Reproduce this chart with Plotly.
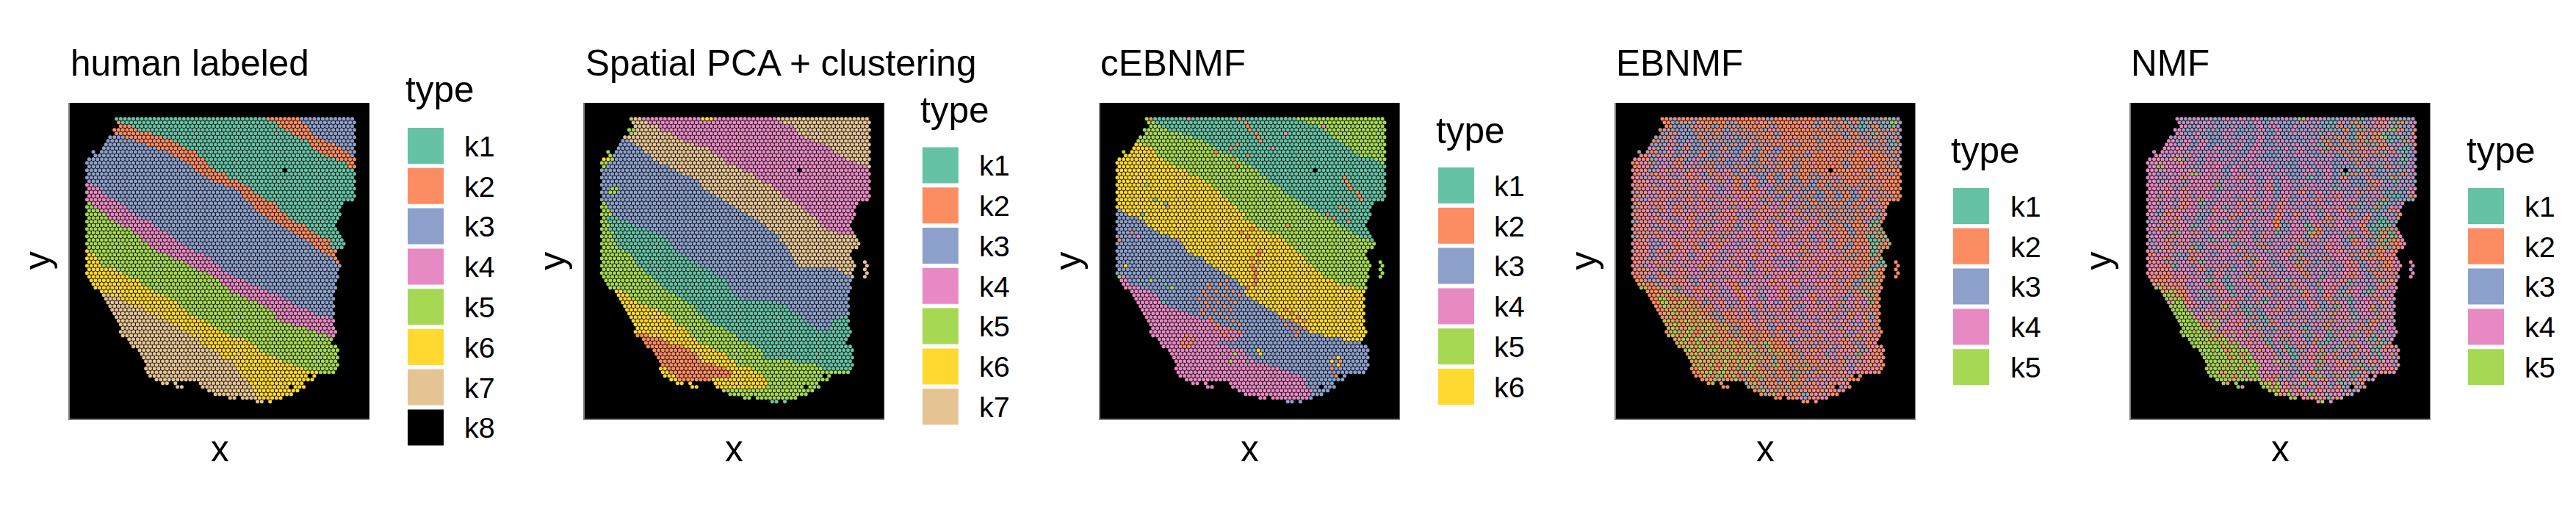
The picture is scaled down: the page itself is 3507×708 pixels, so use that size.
import plotly.graph_objects as go

W, H = 3507, 708
SET2 = {"a": "#66C2A5", "b": "#FC8D62", "c": "#8DA0CB", "d": "#E78AC3", "e": "#A6D854",
        "f": "#FFD92F", "g": "#E5C494", "h": "#000000"}
KEYS = "abcdefgh"
TITLES = ["human labeled", "Spatial PCA + clustering", "cEBNMF", "EBNMF", "NMF"]
LEGEND_COUNTS = [8, 7, 6, 5, 5]

ROW_STARTS = [0, 1, 2, -1, 0, -3, -4, -5, -6, -7, -10, -13, -14, -13, -14, -13, -14, -13, -14, -13,
              -14, -13, -14, -13, -14, -13, -14, -13, -14, -13, -14, -13, -14, -13, -14, -13, -14, -13, -14, -13,
              -14, -13, -14, -13, -12, -11, -10, -7, -6, -5, -4, -3, -2, -1, 0, 1, 2, 3, 2, 3,
              6, 7, 8, 11, 12, 13, 14, 15, 14, 15, 16, 19, 40, 41, 44, 47, 60, 67]
ROW_ENDS = [112, 113, 112, 113, 112, 113, 112, 113, 112, 113, 112, 113, 112, 113, 112, 113, 112, 113, 112, 113,
            112, 113, 112, 107, 106, 105, 106, 105, 104, 103, 104, 105, 106, 107, 108, 107, 104, 103, 104, 105,
            106, 105, 104, 105, 104, 103, 104, 103, 102, 103, 102, 103, 102, 103, 102, 103, 102, 103, 104, 103,
            102, 101, 104, 105, 104, 105, 104, 105, 104, 103, 94, 93, 88, 89, 86, 83, 78, 67]
EXTRA_SPOTS = [(9, -11), (39, 111), (40, 112), (41, 111), (42, 112), (43, 111), (72, 22), (72, 24), (72, 28),
               (73, 29), (73, 31), (76, 54), (76, 56), (77, 69), (77, 73)]
BLACK_SPOTS = [(14, 80), (70, 92), (73, 83)]
P1_BLACK_SPOTS = [(39, 111), (40, 112), (41, 111), (42, 112), (43, 111)]

P1_ROWS = ["a70 b87 c", "b1 a75 b88 c", "b7 a77 b90 c", "b10 a80 b91 c", "b17 a82 b93 c", "c3 b21 a85 b95 c",
 "c8 b26 a90 b99 c", "c13 b29 a92 b103 c", "c18 b32 a93 b107 c", "c23 b37 a96 b110 c", "c26 b38 a98 b111 c",
 "c29 b41 a104 b", "c32 b42 a108 b", "c35 b43 a110 b", "c37 b47 a", "c40 b52 a", "c43 b53 a", "c46 b57 a",
 "d-12 c50 b61 a", "d-9 c55 b64 a", "d-7 c58 b65 a", "d-5 c60 b68 a", "d-2 c61 b71 a", "e-13 d1 c63 b75 a",
 "e-11 d5 c64 b77 a", "e-9 d6 c66 b78 a", "e-6 d8 c69 b80 a", "e-4 d12 c72 b82 a", "e-1 d16 c74 b85 a",
 "e2 d18 c77 b89 a", "e6 d20 c80 b91 a", "e8 d23 c83 b94 a", "e10 d26 c86 b97 a", "e11 d28 c89 b101 a",
 "e14 d31 c92 b101 a", "e16 d34 c94 b101 a", "f-13 e19 d37 c97 b105 a", "f-10 e23 d41 c99 b", "f-9 e27 d44 c102 b",
 "f-8 e31 d46 c103 b", "f-7 e34 d49 c", "f-1 e38 d50 c", "f2 e42 d53 c", "f6 e45 d55 c", "f10 e48 d60 c",
 "f12 e50 d64 c", "f14 e52 d68 c", "f17 e54 d71 c", "g-3 f22 e58 d76 c", "g1 f26 e62 d80 c", "g5 f28 e66 d83 c",
 "g8 f30 e69 d86 c", "g12 f33 e72 d90 c", "g16 f34 e75 d94 c", "g19 f38 e75 d101 c", "g23 f41 e78 d", "g26 f44 e83 d",
 "g30 f47 e89 d", "g33 f50 e95 d", "g36 f54 e99 d", "g38 f60 e103 d", "g39 f64 e", "g42 f67 e", "g46 f68 e",
 "g48 f71 e", "g50 f75 e", "g54 f78 e", "g56 f83 e", "g57 f89 e", "g58 f96 e", "g58 f", "g61 f", "g62 f", "g63 f",
 "g64 f", "g66 f", "g67 f", "g69 f"]

P2_ROWS = ["e0 g5 d32 f38 d69 g", "g8 d72 g", "g12 d76 g", "e1 g14 d78 g", "e0 g18 d79 g", "g21 d82 g", "c-2 g25 d87 g",
 "c1 g29 d91 g", "c4 g36 d94 g", "e-11 c6 g37 d96 g", "e-9 c8 g41 d98 g", "f-11 e-9 c10 g43 d102 g", "e-12 c12 g45 d107 g",
 "e-13 c17 g49 d111 g", "c21 g53 d", "c24 g57 d", "c29 g59 d", "c31 g62 d", "c33 g66 d", "c-11 e-7 c33 g68 d",
 "c-12 e-8 c36 g70 d", "c40 g71 d", "c43 g74 d", "e-13 c45 g78 d", "e-12 c48 g80 d", "e-11 c52 g82 d", "e-10 c54 g85 d",
 "e-12 a-6 c57 g87 d", "e-12 a-1 c60 g89 d", "e-11 a2 c63 g90 d", "e-11 a6 c65 g93 d", "e-9 a11 c68 g97 d", "e-9 a14 c70 g",
 "e-8 a17 c70 g", "e-7 a18 c72 g", "e-6 a20 c73 g", "e-3 a21 c74 g", "e-1 a24 c75 g", "e1 a26 c76 g", "e2 a29 c77 g",
 "e3 a33 c78 g", "e5 a37 c98 g", "e7 a38 c101 g", "e9 a41 c103 g", "e11 a44 c", "e13 a45 c", "e15 a47 c", "f-4 e18 a48 c",
 "f-2 e21 a49 c", "f0 e24 a52 c", "f3 e27 a68 c", "f7 e29 a74 c", "f12 e31 a75 c", "f15 e32 a78 c", "f18 e34 a80 c98 a",
 "f19 e36 a82 c96 a", "f20 e39 a85 c94 a", "f25 e43 a87 c93 a", "f27 e47 a90 c91 a", "b8 f28 e49 a", "b15 f30 e50 a",
 "b18 f32 e55 a", "b24 f36 e59 a", "b28 f39 e61 a", "b30 f44 e62 a", "b31 f46 e62 a", "b33 f48 e77 a", "b40 f50 e87 a",
 "f17 b44 f56 e90 a", "f18 b47 f60 e103 a", "f20 b47 f63 e", "f22 b38 f64 e", "f64 e", "f64 e", "e", "e", "e", "a"]

P3_ROWS = ["e1 b3 a70 e", "e4 a76 e", "e7 a80 e", "e10 a83 e", "e17 a86 e", "e22 a88 e", "e26 a91 e", "f-2 e29 a93 e",
 "f2 e33 a96 e", "e-11 f3 e36 a97 e", "f5 e40 a101 e", "f7 e43 a108 e", "f11 e46 a111 e", "f14 e50 a", "f18 e53 a", "f20 e54 a",
 "f24 e57 a", "f27 e58 a", "f30 e61 a", "f32 e64 a", "f34 e65 a", "f35 e67 a", "f38 e71 a", "f40 e74 a", "f42 e76 a",
 "c-12 f44 e79 a", "c-9 f46 e82 a", "c-5 f46 e86 a", "c-2 f48 e88 a", "c0 f51 e91 a", "c3 f54 e94 a", "c6 f58 e98 a",
 "c11 f62 e101 a", "c16 f65 e106 a", "c17 f67 e", "c18 f69 e", "c19 f71 e", "c21 f74 e", "c26 f75 e", "c28 f76 e", "c30 f78 e",
 "c33 f79 e", "c37 f82 e", "d-11 c39 f84 e", "d-10 c42 f88 e", "d-8 c44 f91 e", "d-3 c46 f98 e", "d2 c46 f", "d5 c47 f", "d5 c50 f",
 "d6 c53 f", "d9 c55 f", "d14 c58 f", "d19 c62 f", "d24 c64 f", "d29 c69 f", "d32 c71 f", "d38 c74 f", "d42 c77 f", "d45 c83 f",
 "d43 c93 f", "d33 c", "d38 c", "d45 c", "d47 c", "d49 c", "d51 c", "d58 c", "d62 c", "d68 c", "d72 c", "d75 c", "d75 c", "d76 c",
 "d78 c", "d78 c", "d76 c", "c"]

P3_SPECKS = {
 "b": "0,44 1,47 2,48 3,49 4,51 5,52 6,54 8,39 9,33 10,48 11,41 13,43 7,43 16,93 17,94 18,96 19,97 20,99 21,101 22,102 24,92 25,94 "
      "26,85 27,88 28,95 29,66 30,50 31,45 32,47 36,53 37,52 38,50 39,52 40,49 41,50 42,52 43,50 44,51 45,50 46,48 "
      "44,37 45,29 45,35 46,30 46,38 47,27 47,33 47,41 48,28 48,36 48,44 49,25 49,31 49,39 50,28 50,34 50,42 51,29 51,37 "
      "52,26 52,32 52,40 52,66 53,27 53,35 53,69 54,30 54,38 54,64 54,72 55,31 55,41 55,69 55,75 56,34 56,44 56,66 56,72 "
      "57,33 57,39 57,69 57,75 58,36 58,44 58,72 59,19 59,37 59,71 60,18 60,22 60,40 61,17 61,21 62,18 62,20 31,-8 33,-13 "
      "48,-8 49,-7 66,91 68,88 70,89",
 "d": "0,20 2,84 4,66 8,60 24,10 32,-4 33,14 47,-11 50,4 66,88",
 "f": "18,-10 20,-8 40,-10 63,53 64,54 65,91 66,88 67,90",
 "a": "22,3 23,9 26,-2 43,6 45,9 50,7 66,48",
 "e": "18,0 43,-13 44,1 46,12 66,40 64,42"}

P4_ROWS = [
 "bbbbcbbbbdbbbbcbbcbbbbcbcbcacbcd", "bcbcbbbbcbbbdbbbbbbbcbcbcbcbcaec", "bccbdbcbbcbbbbcbbbdbcbbcbcacbcac", "bcccbcbbcbcbbcdbbbbbbcbcbcacbcbd",
 "cbcccbcbccbcbbbcbbbbbbcbcbcbabcc", "cbcccbcbcdcbcbbcbbbbcbbbcbbcbcbc", "bcdcccbcbcccbcbbbdbbbcbbbbcbcbcb", "ccbcdcbcccbcdbcbbbcbbbbdbbbcbcac",
 "dcdcbccdcbccbcbdcbbbbcbbbbdbcbcb", "cbcdcccbcdccbcbbcbbbdbbbbcbbbcbc", "bcdbcdcbccdcbcbcdbbbcbbbbbbdbbcb", "dbcdcbcdccbcdccbcbbcbbbdbbbbbbbc",
 "bdbcdbcdcbcccdcbbcbbbdbbbcbbbbcb", "bdcdcbdcbcdcbcbcdbbcbbbbbcbbdbbc", "dbcdbdcbdbcdcbcbcbdcbbbdbbbbcbbb", "bdbdcdbdcbdbcdccbcbbbcbbbbdbbbcb",
 "dcdbdcdbdcbdbcdcbcbcbbcbdbbbcbbb", "bdcdbdbdcdbcbdbcbcdcbcbbcbbbbdbb", "dbdcdbcdbdcdbcbcdcbcbcbcbbbcbbbb", "bdbdcdbdbdcdbcbdcbcbccbcbcdbcbbb",
 "cbdbdbcdbdcdbdbdcbcdcbcbcbcbbcbb", "bdcdbdbcdbdcdbdbdcbcbccbcbcbdbcb", "dcdbdcdbdcdbdbdcbcbdcbcbcbcbcbbb", "bdbdcdbdbdcdbdbdcdbcbcbcbbcbdcbb",
 "cbdbdbcdbdbdcdbdbdcdcbcbcbcbcbdb", "bdcbdbdcdbcdbdcdbdbdbcbcbcbcbbcb", "dbdcdbdbdcdbdcdbdbcdbdcbcbcbcbbd", "bdbdcdbdcdbdbdcdbdbdcbdcbcbcbdcb",
 "cbdbdcdbdbcdbdbddcdbdcdbcbcbbcab", "bdcdbddbdcdbdcdbdbcdbdbdcbbcbbab", "dbdcdbdbcbddbcdbdbddcdbcbdbcbdba", "bdbdcdbdbcdbcddbdbdcdbdbcbbcbbab",
 "cbdbddcdbdbcdbdbddcdbdcdbdbcbaba", "bdcdbdbddbcbddcdbddbdbcdcbbbbaab", "dbdcdbdbcdbdcddbdbddcbdbdbcbbaba", "bdcddbdbcdbddcdbdbddbddbcbcbdabb",
 "dbdbcbddbdbcdbddcddbdbcdbdcbbbab", "bdcdbdbcdbddcddbdbddbcbddbdbcbab", "dbcdbddcdbdcbddbddcddbdbdbbcbbba", "bdbdcdbddbcddbcdbddcddbdbdbbbbab",
 "dcdbbdcdbddbcddbddcddbdbddbdbcab", "bbdcdbddbcddbdcdbddcbddbdbdbbabb", "dbdbcdbdcdbddbcdbddbdcdbdbdbcbbb", "bdcbdbcdbddcddbdcdbddbdcdbdbbabb",
 "bcdbbdbcdcdbddcddbddbdddbdcbcabb", "bbcdbbdcdbddbcdddbddbcdbdbdbcbab", "ebbdcbdbddcdbddbcdbdddcddbdbcbbb", "bbebcdbbdbcdbddcddbddcddbdbcbabd",
 "bbbebcdbdcddbdbcddbdcdbddbdcdbab", "bebbbbdcbdcdbddcddbcddbdddcdbdbb", "bebbebbcdbdcbddbdcddbdbcddbdbdab", "bebebbcbdbcdbdbcddbdcddbdbcdbdbb",
 "bbebbebbcdbbdcddbdbcddbdcbdcbcbb", "bebbebbcbbdcbdbcdbddcbddbdcbdbdb", "bbebbebbcbbdbcdbcdbdcddbdcdbdbab", "ebbebebbcbbbdcbdbcdbddcdbddcdbdb",
 "bebbebebbcbbbdbcdbdcdbddcdbdcdbb", "ebbebebbebcbbbdcbdbdcddbdcdbdbcb", "bebebbebbcbbbcbdbcdbdbcddbdcdbdb", "ebebbebebbcbbbbcdbbdcdbdbdcdbdbb",
 "bebebbebbbebcbbbbdcdbdbcddbdbcbd", "ebbebebbebbcbbebbdcbdbcdbdbdcdbd", "bebebebbebbebcbbbbdbcdbdcdbdcbdb", "ebebebebbebcbebbbcbdbbdcdbdbcdbd",
 "bebebebebbebcbebbbcdbdcdbdbabdbb", "ebebebebebbebcbebbcbdbadbcdbdbbd", "bebebebebbebbcbbbcbbbdbcdbdcdbdb", "ebebbebebebcbebcbbabbcbdbcdbdbdb",
 "bebebebcbebbcbbbcbbbcbdbbdcdbdbb", "bbebebebcbebbcbbbabcbbbdbdcdbdbd", "bebbebbebcbbebcbbbcbbdbdcdbdbbdb", "bbebcbebbebcbbbcbbabbcdbdbdbcbbb",
 "bebcbebbcbbbcbbcbbbcdbdbdcbdbdbb", "bbcebcbbcbbbcabbcbbdbbdcbdbbcdbb", "bbebcbbcbbbcbbbcbdbbdbcbdbdbbdbb", "bcbbbebcbbbcbbbbabcbbdbbdcbdbcbb",
 "bcbbbbcbbbdbbdbbcbbdbdbdbbdbbdbb", "bdbdcbdb"]

P5_ROWS = [
 "dcdcdcdcdcdcacdcedcdccdcacdbdcad", "cdcdccdcdcdcdcccdcdcadcbcdbdabdc", "dcdcdccdccdcdccdcdcacbcabcdbdacd", "dccdcccdcccdcdcdccdcacbcabcdebcb",
 "dcdcccdcccdccdcddcacdcbcbdbacdcb", "cdcdcccdcdcdcdcccdcbcbcabcbeaacd", "dcdcdcccdccdccdcccdcbcbcbabdacbd", "dcdcdccdcdcdccdcdcdabcbcbcabcdcb",
 "dddcdcdccdcdcdcdcdcdcbcbcbdbdcad", "dddcdcdcdccddccdcdccbcbcbdbcbacd", "dcdddcddcdcdcccdcddccdcbcbcbcdcc", "dddecdcdcdcddcccdccdcdccbcdcdcac",
 "ddddbdcdddcdcdcdccdcdccdcbcdccad", "dedddcdddcdcdddcccdcddcccdcabdcc", "ddddddcddcdcdcdcdccdcdcdcabccccd", "dcdddedddcddcdcdccddcdcabdccdcbc",
 "ddcdbddddcdbdcdcdccacdcbccdcabcd", "dcddcdddcddcdcdcdcdccdcdccbdcacc", "ddddcdddbdcddcdcddcddccdcccbdcdc", "dddcbdddacdcddbcdcddcdacdcbccdcd",
 "ddbdddddcddddcdcddbcdcddcbcdaccd", "dcddbcddddcddcdcdcdcddbcdcddcacb", "dbdcddbdcddcbddcdcddbcdddcdcbcca", "dcddbdacddcbdcddbcdcddcdcbcdaacd",
 "dddcbdcddaddcdbcddcdcbdddcacbcdc", "dcdbdddcbdcddadcbddcdcddbcdcacbd", "dcbdddacdddbcdcddcbddadcdbcdcdcb", "dddbcdcdddbcdddcbddcdcbdddcbcadb",
 "cdbdddcddacdbcddbcdcddbcdcddcaca", "dcdbdacddddcdcddbcddadcbdcdbcaac", "dbdddcdcbddcddcdbcddcbdcddcbaabd", "cddadbcdddcbdcddacddebcdcbddcbab",
 "ddcbdddcdacddcbdcddcbdcddacbabad", "cdbddcdacdbddcdcddbcdaddcbdcbabd", "dddcbdcdddacdbcddcdbcdddcbdcabbd", "cdbddacdbdcddcbdcdaddcbdcddcbabd",
 "dcdddbcdcddbcdcaddbcdcddbdcbbbdb", "bddacdbdcddcbdddcbdacdcddcbdabdb", "ddbdcbdcddcdbadcddcbdcbdddcbbbbd", "bdcddbadcdddcbdcddabcdcddbcdcbdb",
 "ddbadcdddbcdcddacdbdcddcbdcdbbdd", "dbdcddbcdcaddbcdcdbcdadcddcbcbdc", "bdbddcdcbddcadbdcddbcdcddbdcbdbd", "dbbdbddcdaddbcdcddcbdadcdbdcbdcd",
 "bbdbddcadcddbdcbdadcdcddbcdcdabd", "dbbdcddbdcaddbcdcdbdcbdddacdcdbd", "ebdbdddcbadcddcdbcddcadbcdddcbdd", "bebdcadbdcddcbdcddabdcddcbdcaddd",
 "ebbdddcbdadcddbcdcdbdcbdaddcbdcd", "eebdcadcddbcdaddcbddcdbcdaddcbdd", "debddcadbdcdbadcddcbdcdbdacdddbc", "eedbcddedbcaddcbddcdbcdadcddbcdd",
 "eedcddcbdcadcddbcdcddacbdcddbcdc", "eeeddbddcbadcdbdcadcddbcdaddcbdd", "eeddedbcddcbadcddbcdadcdbdcddcbd", "eeeddecbdddcabdcddbcdcbddadcbddc",
 "eeebdeddbdadcbdcadcddbcdaddcbdcd", "eeebeddddcbadcbddcadcbdcddbcdadd", "eeeedcbddbddcadcdbdcdacbddcbdcdd", "eeeeebdedadbddcbdcaddcbdcadbcddc",
 "eeebeeddbddcadbcddcbdacddbcdadcd", "eeeeeededbddadcbddcbaadcbddcdbad", "eeeebeeddddbcdacbddadcadcbddadbc", "eeeebeeedbddcbadcddbcaddcbdadbdd",
 "eeeeeebedddbcdacbdbadbdcbddcadbd", "eeeebeeedbddddadcbdbdcadbcddadcb", "eeeeeebedddeadcbddabdbdcaddbcddc", "eeebeeeeedddbadcddbcdbbdcaddbdcd",
 "eeeeebeeedddadcbddacddddbbcaddbd", "eebeeeeeddddddcadbddcbddacbddbdd", "eeeebedeedddbadcdbadeadcbdcaddbd", "eeebeedeedbdadcddbdadbcdaddcbdcd",
 "ebeeeedeedbdadecbdadddcbdadcbdbd", "edeebeeedddbdacddbdcdadbcdaddcbd", "eebedbeeddbdcdaddbdaddcbddcdacdb", "ebedeeddddbddacbdddcadbdddcbddad",
 "edeeddddbadddbdadcbddacdddbddddd", "dede"]


def row_spots():
    rows = []
    for r, (s, e) in enumerate(zip(ROW_STARTS, ROW_ENDS)):
        cols = list(range(s, e + 1, 2))
        cols += [c for rr, c in EXTRA_SPOTS if rr == r]
        rows.append(sorted(cols))
    return rows


ROWS = row_spots()


def region_labels(row_strings):
    out = {}
    for r, cols in enumerate(ROWS):
        toks = row_strings[r].split()
        for c in cols:
            lab = toks[-1][0]
            for t in toks:
                if len(t) > 1 and c <= int(t[1:]):
                    lab = t[0]
                    break
            out[(r, c)] = lab
    return out


def mix_label(strings, r, i, n):
    r = min(max(r, 0), len(strings) - 1)
    s = strings[r]
    return s[min(int(i * len(s) / n), len(s) - 1)]


def spot_traces(fig, ax, labels, size=5.1, symbol="circle"):
    buckets = {}
    for (r, c), lab in labels.items():
        buckets.setdefault(lab, ([], []))
        buckets[lab][0].append(c)
        buckets[lab][1].append(r)
    for lab in KEYS:
        if lab in buckets:
            fig.add_trace(go.Scatter(x=buckets[lab][0], y=buckets[lab][1], mode="markers", xaxis=f"x{ax}", yaxis=f"y{ax}",
                                     hoverinfo="skip", showlegend=False,
                                     marker=dict(size=size, color=SET2[lab], symbol=symbol, line=dict(width=0))))


fig = go.Figure()
p1 = region_labels(P1_ROWS)
for k in P1_BLACK_SPOTS:
    p1[k] = "h"
p2 = region_labels(P2_ROWS)
p3 = region_labels(P3_ROWS)
for lab, txt in P3_SPECKS.items():
    for item in txt.split():
        r, c = map(int, item.split(","))
        if (r + c) % 2:
            c += 1
        if (r, c) in p3:
            p3[(r, c)] = lab

PANEL_LEFT = [95, 795.8, 1497.6, 2199.5, 2900.5]
PANEL_W = 408
PANEL_TOP, PANEL_BOT = 140, 570
COL_PX, ROW_PX, COL0_OFF, ROW0_Y = 2.865, 5.0, 63.6, 161.7
SWATCH_X = [555, 1255.8, 1958, 2659, 3360]
TEXT_X = [629.6, 1331, 2032, 2734.5, 3435]
TYPE_X = [550, 1251, 1953, 2654, 3356]
TITLE_X = [94, 795, 1496, 2198, 2899]
SWATCH_TOP = {8: 174, 7: 200.4, 6: 228, 5: 256}
TYPE_BASE = {8: 140.8, 7: 168.5, 6: 196.3, 5: 223.6}

annots, shapes = [], []


def px_x(v):
    return v / W


def px_y(v):
    return 1 - v / H


def note(text, x, base, size, xanchor="left", angle=0):
    annots.append(dict(text=text, x=px_x(x), y=px_y(base + 0.212 * size), xref="paper", yref="paper", xanchor=xanchor,
                       yanchor="bottom", showarrow=False, textangle=angle,
                       font=dict(family="Liberation Sans", size=size, color="#000000")))


layout_axes = {}
for i in range(5):
    ax = i + 1
    L = PANEL_LEFT[i]
    sfx = "" if ax == 1 else str(ax)
    layout_axes["xaxis" + sfx] = dict(domain=[px_x(L), px_x(L + PANEL_W)], range=[-COL0_OFF / COL_PX, (PANEL_W - COL0_OFF) / COL_PX],
                                      showgrid=False, zeroline=False, showticklabels=False, ticks="", showline=True,
                                      linecolor="#808080", linewidth=2, anchor="y" + sfx, mirror=False)
    layout_axes["yaxis" + sfx] = dict(domain=[px_y(PANEL_BOT), px_y(PANEL_TOP)],
                                      range=[(PANEL_BOT - ROW0_Y) / ROW_PX, (PANEL_TOP - ROW0_Y) / ROW_PX],
                                      showgrid=False, zeroline=False, showticklabels=False, ticks="", showline=True,
                                      linecolor="#808080", linewidth=2, anchor="x" + sfx, mirror=False)
    note(TITLES[i], TITLE_X[i], 105, 49.5)
    note("x", L + PANEL_W / 2, 630, 49.5, xanchor="center")
    annots.append(dict(text="y", x=px_x(L - 44), y=px_y(355), xref="paper", yref="paper", xanchor="center", yanchor="middle",
                       showarrow=False, textangle=-90, font=dict(family="Liberation Sans", size=49.5, color="#000000")))
    n = LEGEND_COUNTS[i]
    note("type", TYPE_X[i], TYPE_BASE[n], 49.5)
    for j in range(n):
        top = SWATCH_TOP[n] + 54.8 * j
        shapes.append(dict(type="rect", xref="paper", yref="paper", x0=px_x(SWATCH_X[i]), x1=px_x(SWATCH_X[i] + 49),
                           y0=px_y(top), y1=px_y(top + 49), fillcolor=SET2[KEYS[j]], line=dict(width=0)))
        note(f"k{j + 1}", TEXT_X[i], top + 24.5 + 16, 39.5)

for ax, labs in [(1, p1), (2, p2), (3, p3)]:
    for k in BLACK_SPOTS:
        labs[k] = "h"
    spot_traces(fig, ax, labs)

for ax, strings in [(4, P4_ROWS), (5, P5_ROWS)]:
    main, second, third = {}, {}, {}
    for r, cols in enumerate(ROWS):
        n = len(cols)
        for i, c in enumerate(cols):
            main[(r, c)] = mix_label(strings, r, i, n)
            second[(r, c)] = mix_label(strings, r + 1, i, n)
            third[(r, c)] = mix_label(strings, r + 2, n - 1 - i if i % 3 == 0 else i, n)
    for k in BLACK_SPOTS:
        main[k] = second[k] = third[k] = "h"
    spot_traces(fig, ax, main)
    spot_traces(fig, ax, second, size=3.6, symbol="triangle-ne")
    spot_traces(fig, ax, third, size=2.8, symbol="triangle-sw")

fig.update_layout(width=W, height=H, autosize=False, margin=dict(l=0, r=0, t=0, b=0), paper_bgcolor="white",
                  plot_bgcolor="black", showlegend=False, annotations=annots, shapes=shapes, **layout_axes)
fig.write_html("out.html", config={"displayModeBar": False},
               post_script="document.body.style.margin='0';document.body.style.overflow='hidden';")
